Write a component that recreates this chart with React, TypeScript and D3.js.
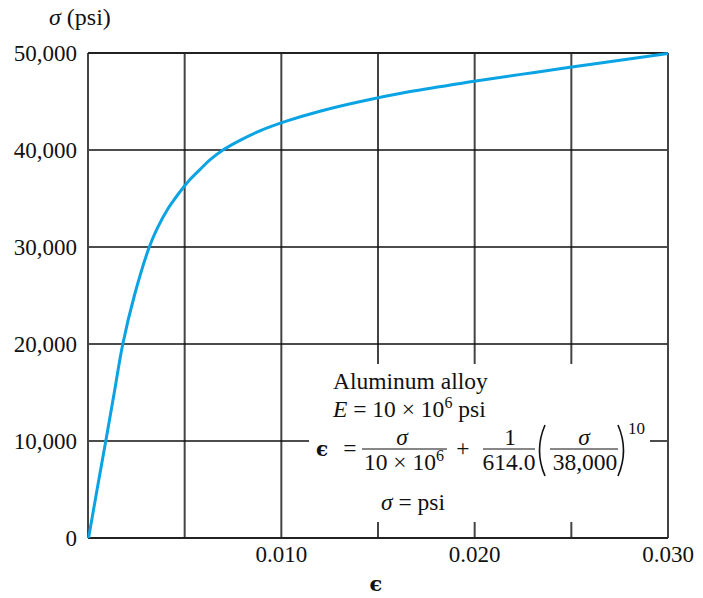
import React from "react";
import * as d3 from "d3";

// stress (psi) and the strain (epsilon) at that stress
const stress = [0, 5000, 10000, 15000, 20000, 25000, 30000, 32000, 34000, 35000, 36000, 37000, 38000, 39000, 40000, 41000, 42000, 43000, 44000, 45000, 46000, 47000, 48000, 49000, 49950];
const strain = [0.00003, 0.00047, 0.00092, 0.00136, 0.0018, 0.0024, 0.00317, 0.0036, 0.00415, 0.0045, 0.00488, 0.0053, 0.0058, 0.00632, 0.00698, 0.00786, 0.00892, 0.0103, 0.0120, 0.0141, 0.0166, 0.0197, 0.0231, 0.0266, 0.030];

const xGrid = [0.005, 0.010, 0.015, 0.020, 0.025];
const xTickValues = [0.010, 0.020, 0.030];
const xTickLabels = ["0.010", "0.020", "0.030"];
const yTickValues = [0, 10000, 20000, 30000, 40000, 50000];
const yTickLabels = ["0", "10,000", "20,000", "30,000", "40,000", "50,000"];

const W = 703;
const H = 598;
const L = 88, R = 668, T = 53, B = 538;
const FONT = "'Liberation Serif', 'Times New Roman', serif";

export default function App() {
  const x = d3.scaleLinear().domain([0, 0.03]).range([L, R]);
  const y = d3.scaleLinear().domain([0, 50000]).range([B, T]);
  const pts: [number, number][] = strain.map((e, i) => [e, stress[i]]);
  const line = d3
    .line<[number, number]>()
    .x((d) => x(d[0]))
    .y((d) => y(d[1]))
    .curve(d3.curveCatmullRom.alpha(0.5));

  const fs = 23;
  const afs = 23.5;
  const midY = 449;
  const ink = "#111";
  const paren = (cx: number, dir: number) => {
    const top = midY - 24;
    const bot = midY + 27;
    return `M${cx + dir * 4},${top} Q${cx - dir * 7},${(top + bot) / 2} ${cx + dir * 4},${bot}`;
  };
  return (
    <svg
      width={W}
      height={H}
      style={{ position: "absolute", left: 0, top: 0, background: "#fff" }}
      fontFamily={FONT}
    >
      <rect x={0} y={0} width={W} height={H} fill="#fff" />
      {/* vertical grid */}
      {xGrid.map((v) => (
        <line key={"vx" + v} x1={x(v)} x2={x(v)} y1={T} y2={B} stroke="#444" strokeWidth={2} />
      ))}
      {/* horizontal grid */}
      {yTickValues.map((v) => (
        <line key={"hy" + v} x1={L} x2={R} y1={y(v)} y2={y(v)} stroke="#111" strokeWidth={1.5} />
      ))}
      {/* frame */}
      <line x1={L} x2={L} y1={T} y2={B} stroke="#444" strokeWidth={2} />
      <line x1={R} x2={R} y1={T} y2={B} stroke="#444" strokeWidth={2} />
      <line x1={L} x2={R} y1={T} y2={T} stroke="#222" strokeWidth={2} />
      <line x1={L} x2={R} y1={B} y2={B} stroke="#222" strokeWidth={2} />

      {/* annotation background */}
      <rect x={309} y={364} width={341} height={158} fill="#fff" />

      {/* curve */}
      <path d={line(pts) || ""} fill="none" stroke="#0aa3e3" strokeWidth={3} />

      {/* y tick labels */}
      {yTickValues.map((v, i) => (
        <text key={"yl" + v} x={77} y={y(v) + 8} textAnchor="end" fontSize={fs} fill={ink}>
          {yTickLabels[i]}
        </text>
      ))}
      {/* x tick labels */}
      {xTickValues.map((v, i) => (
        <text key={"xl" + v} x={x(v)} y={562} textAnchor="middle" fontSize={fs} fill={ink}>
          {xTickLabels[i]}
        </text>
      ))}
      {/* axis titles */}
      <text x={49} y={25} fontSize={24} fill={ink}>
        <tspan fontStyle="italic">σ</tspan>
        <tspan> (psi)</tspan>
      </text>
      <text x={x(0.015) - 2} y={591} textAnchor="middle" fontSize={21} fontWeight="bold" fontFamily="'DejaVu Serif', serif" fill={ink}>
        ϵ
      </text>

      {/* annotation */}
      <text x={333} y={389} fontSize={afs} fill={ink}>Aluminum alloy</text>
      <text x={333} y={417} fontSize={afs} fill={ink}>
        <tspan fontStyle="italic">E</tspan>
        <tspan> = 10 × 10</tspan>
        <tspan dy={-9} fontSize={16}>6</tspan>
        <tspan dy={9}> psi</tspan>
      </text>

      <text x={322} y={midY + 7} textAnchor="middle" fontSize={20} fontWeight="bold" fontFamily="'DejaVu Serif', serif" fill={ink}>ϵ</text>
      <text x={350} y={midY + 7} textAnchor="middle" fontSize={afs} fill={ink}>=</text>
      <text x={402} y={midY - 4} textAnchor="middle" fontSize={afs} fontStyle="italic" fill={ink}>σ</text>
      <line x1={362} x2={447} y1={midY} y2={midY} stroke={ink} strokeWidth={1.2} />
      <text x={404} y={midY + 21} textAnchor="middle" fontSize={afs} fill={ink}>
        <tspan>10 × 10</tspan>
        <tspan dy={-9} fontSize={16}>6</tspan>
      </text>
      <text x={463} y={midY + 7} textAnchor="middle" fontSize={afs} fill={ink}>+</text>
      <text x={510} y={midY - 4} textAnchor="middle" fontSize={afs} fill={ink}>1</text>
      <line x1={483} x2={535} y1={midY} y2={midY} stroke={ink} strokeWidth={1.2} />
      <text x={509} y={midY + 21} textAnchor="middle" fontSize={afs} fill={ink}>614.0</text>
      <path d={paren(541, 1)} fill="none" stroke={ink} strokeWidth={1.6} />
      <text x={584} y={midY - 4} textAnchor="middle" fontSize={afs} fontStyle="italic" fill={ink}>σ</text>
      <line x1={550} x2={618} y1={midY} y2={midY} stroke={ink} strokeWidth={1.2} />
      <text x={585} y={midY + 21} textAnchor="middle" fontSize={afs} fill={ink}>38,000</text>
      <path d={paren(622, -1)} fill="none" stroke={ink} strokeWidth={1.6} />
      <text x={628} y={midY - 15} fontSize={17} fill={ink}>10</text>

      <text x={381} y={510} fontSize={afs} fill={ink}>
        <tspan fontStyle="italic">σ</tspan>
        <tspan> = psi</tspan>
      </text>
    </svg>
  );
}
